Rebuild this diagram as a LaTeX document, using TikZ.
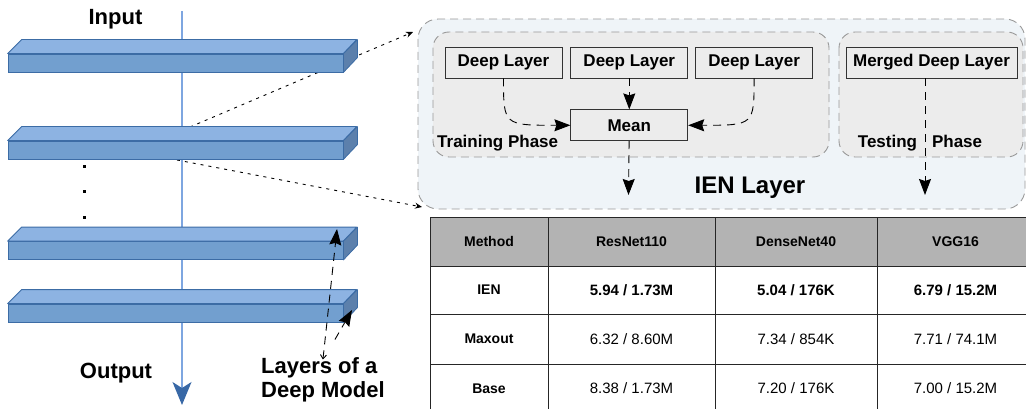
\documentclass[tikz,border=0pt]{standalone}
\usepackage{fontspec}
\setmainfont{Liberation Sans}
\usetikzlibrary{arrows.meta,positioning}

\definecolor{barfront}{RGB}{114,159,207}
\definecolor{bartop}{RGB}{141,179,226}
\definecolor{barside}{RGB}{92,128,172}
\definecolor{baredge}{RGB}{60,108,165}
\definecolor{flowline}{RGB}{126,166,224}
\definecolor{flowtip}{RGB}{56,104,166}
\definecolor{ienfill}{RGB}{239,244,248}
\definecolor{phasefill}{RGB}{236,236,236}
\definecolor{headfill}{RGB}{179,179,179}

\begin{document}
\begin{tikzpicture}[
    x=1pt, y=-1pt,
    bar/.style={draw=baredge, fill=barfront, line width=0.8pt, minimum width=335pt, minimum height=18pt, inner sep=0pt},
    face/.style={draw=baredge, line width=0.8pt, line join=round},
    box/.style={draw=black!80, fill=phasefill, line width=0.8pt, minimum width=117pt, minimum height=31pt, inner sep=0pt, font=\fontsize{17}{20}\selectfont\bfseries},
    group/.style={draw=black!40, dash pattern=on 8pt off 5pt, line width=0.9pt},
    flow/.style={dash pattern=on 8pt off 6pt, line width=0.9pt, -{Stealth[length=16pt,width=12pt,inset=2pt]}},
    zoomline/.style={dash pattern=on 3pt off 5pt, line width=0.9pt, -{Stealth[length=7pt,width=6pt]}},
    big/.style={font=\fontsize{22}{24}\selectfont\bfseries, inner sep=0pt},
    phase/.style={font=\fontsize{17}{20}\selectfont\bfseries, inner sep=0pt},
    tab/.style={draw=black!85, line width=1pt},
    head/.style={font=\fontsize{14}{17}\selectfont\bfseries},
    cell/.style={font=\fontsize{15}{18}\selectfont}
]
\path[use as bounding box, clip] (0,0) rectangle (1026,409);

% data flow through the model, behind the layers
\coordinate (in) at (182,11);
\coordinate (out) at (182,405);
\draw[flowline, line width=1.2pt, -{Stealth[length=23pt,width=19pt,inset=6pt,color=flowtip]}] (in) -- (out);

% zoom lines from the second layer to the IEN layer
\coordinate (zs1) at (190,127);
\coordinate (zs2) at (177,160);
\coordinate (ze1) at (413,32);
\coordinate (ze2) at (422,207);
\draw[zoomline] (zs1) -- (ze1);
\draw[zoomline] (zs2) -- (ze2);

% layers of the deep model
\foreach \n/\y in {l1/63, l2/150, l3/250.5, l4/313} {
  \node[bar] (\n) at (175.5,\y) {};
  \filldraw[face, fill=bartop] (\n.north west) -- ++(14,-14) -- ++(335,0) -- (\n.north east) -- cycle;
  \filldraw[face, fill=barside] (\n.north east) -- ++(14,-14) -- ++(0,18) -- (\n.south east) -- cycle;
}
\foreach \y in {167,192,217}
  \fill (82.5,\y-1.5) rectangle ++(3,3);

\node[big] (input) at (115.5,19) {Input};
\node[big] (output) at (116,373) {Output};
\node[big, align=left, anchor=west] (lbl) at (261,380) {Layers of a\\Deep Model};

\coordinate (tip3) at (337,229);
\coordinate (tip4) at (352,310);
\draw[flow, {Straight Barb[length=4pt,width=6pt]}-{Stealth[length=16pt,width=12pt,inset=2pt]}] ([yshift=-2pt]lbl.north) -- (tip3);
\draw[flow] ([shift={(12,-18)}]lbl.north) -- (tip4);

% IEN layer
\draw[group, fill=ienfill, rounded corners=20pt] (418,19) rectangle (1025,209);
\draw[group, fill=phasefill, rounded corners=16pt] (433,32) rectangle (829,157);
\draw[group, fill=phasefill, rounded corners=16pt] (839,32) rectangle (1023,157);

\node[box] (dl1) at (503.5,62.5) {Deep Layer};
\node[box] (dl2) [right=8pt of dl1] {Deep Layer};
\node[box] (dl3) [right=7pt of dl2] {Deep Layer};
\node[box] (mean) [below=31pt of dl2] {Mean};
\node[box, minimum width=171pt] (merged) at (931.5,62.5) {Merged Deep Layer};

\node[phase, anchor=west] (train) at (437,143) {Training Phase};
\node[phase] (test) at (920,143) {Testing\hspace{15pt}Phase};
\node[font=\fontsize{24}{28}\selectfont\bfseries, inner sep=0pt] (ien) at (750,188) {IEN Layer};

\coordinate (traintip) at (628.5,195);
\coordinate (testtip) at (925,195);
\draw[flow] (dl1.south) .. controls (dl1.south |- mean.west) .. (mean.west);
\draw[flow] (dl3.south) .. controls (dl3.south |- mean.east) .. (mean.east);
\draw[flow] (dl2) -- (mean);
\draw[flow] (mean) -- (traintip);
\draw[flow] (merged.south -| testtip) -- (testtip);

% results table
\fill[headfill] (430,217) rectangle (1034,266);
\foreach \y in {217,266,314,364}
  \draw[tab] (430,\y) -- (1034,\y);
\foreach \x in {430,548,715,877}
  \draw[tab] (\x,217) -- (\x,413);

\foreach \t/\x [count=\i] in {Method/489, ResNet110/631.5, DenseNet40/796, VGG16/955.5}
  \node[head] (h\i) at (\x,241.5) {\t};
\foreach \t/\y [count=\i] in {IEN/290, Maxout/339, Base/388.5}
  \node[head] (m\i) at (489,\y) {\t};

\node[cell, font=\fontsize{15}{18}\selectfont\bfseries] (v11) at (631.5,290) {5.94 / 1.73M};
\node[cell, font=\fontsize{15}{18}\selectfont\bfseries] (v12) at (796,290) {5.04 / 176K};
\node[cell, font=\fontsize{15}{18}\selectfont\bfseries] (v13) at (955.5,290) {6.79 / 15.2M};
\node[cell] (v21) at (631.5,339) {6.32 / 8.60M};
\node[cell] (v22) at (796,339) {7.34 / 854K};
\node[cell] (v23) at (955.5,339) {7.71 / 74.1M};
\node[cell] (v31) at (631.5,388.5) {8.38 / 1.73M};
\node[cell] (v32) at (796,388.5) {7.20 / 176K};
\node[cell] (v33) at (955.5,388.5) {7.00 / 15.2M};
\end{tikzpicture}
\end{document}
